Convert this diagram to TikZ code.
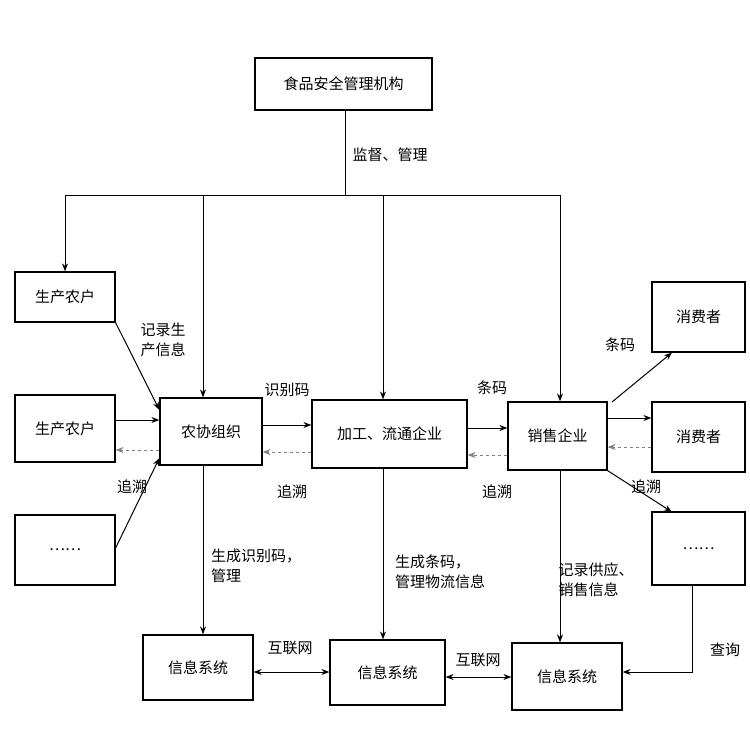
\documentclass[tikz,border=0pt]{standalone}
\usepackage{fontspec}
\setmainfont{Noto Sans CJK SC}
\usetikzlibrary{arrows.meta}
\begin{document}
\begin{tikzpicture}[x=1pt,y=-1pt,
  bx/.style={draw,line width=1.2pt,inner sep=0pt,font=\fontsize{15}{18}\selectfont},
  lb/.style={font=\fontsize{15}{20}\selectfont,align=left},
  ar/.style={-{Stealth[length=8pt,width=6pt]},line width=1pt},
  da/.style={-{Stealth[length=8pt,width=6pt]},line width=1pt,dashed,gray}]
\useasboundingbox (0,0) rectangle (750,750);
\def\B#1#2#3#4#5#6{\node[bx,minimum width=#4-#2,minimum height=#5-#3] (#1) at ({(#2+#4)/2},{(#3+#5)/2}) {#6};}
\B{top}{255}{58}{432}{110}{食品安全管理机构}
\B{f1}{15}{272}{115}{322}{生产农户}
\B{f2}{15}{395}{115}{462}{生产农户}
\B{f3}{15}{515}{115}{585}{……}
\B{co}{160}{398}{262}{465}{农协组织}
\B{pr}{312}{400}{467}{468}{加工、流通企业}
\B{sa}{508}{402}{607}{470}{销售企业}
\B{c1}{652}{282}{745}{352}{消费者}
\B{c2}{652}{402}{745}{472}{消费者}
\B{c3}{652}{512}{745}{585}{……}
\B{i1}{143}{635}{253}{700}{信息系统}
\B{i2}{330}{640}{445}{705}{信息系统}
\B{i3}{512}{643}{622}{710}{信息系统}
\coordinate (j) at (345,195);
\draw[line width=1pt] (top.south -| j) -- (j) (65,195) -- (560,195);
\draw[ar] (65,195) -- (f1.north -| 65,0);
\draw[ar] (203,195) -- (co.north -| 203,0);
\draw[ar] (383,195) -- (pr.north -| 383,0);
\draw[ar] (560,195) -- (sa.north -| 560,0);
\node[lb] at (390,155) {监督、管理};
% farmers
\draw[ar] (f1.south east) -- (co.west |- 0,410);
\node[lb] at (163,340) {记录生\\产信息};
\draw[ar] (f2.east |- 0,420) -- (co.west |- 0,420);
\draw[da] (co.west |- 0,450) -- (f2.east |- 0,450);
\draw[ar] (f3.east |- 0,548) -- (co.west |- 0,458);
\node[lb] at (132,487) {追溯};
% chain
\draw[ar] (co.east |- 0,425) -- (pr.west |- 0,425);
\draw[da] (pr.west |- 0,452) -- (co.east |- 0,452);
\node[lb] at (287,390) {识别码};
\node[lb] at (292,492) {追溯};
\draw[ar] (pr.east |- 0,428) -- (sa.west |- 0,428);
\draw[da] (sa.west |- 0,455) -- (pr.east |- 0,455);
\node[lb] at (492,388) {条码};
\node[lb] at (497,492) {追溯};
% consumers
\draw[ar] (612,402) -- (c1.south west -| 672,0);
\node[lb] at (620,345) {条码};
\draw[ar] (sa.east |- 0,418) -- (c2.west |- 0,418);
\draw[da] (c2.west |- 0,447) -- (sa.east |- 0,447);
\draw[ar] (sa.south east) -- (672,512);
\node[lb] at (646,487) {追溯};
% down
\draw[ar] (co.south -| 203,0) -- (i1.north -| 203,0);
\node[lb] at (256,566) {生成识别码，\\管理};
\draw[ar] (pr.south -| 383,0) -- (i2.north -| 383,0);
\node[lb] at (440,572) {生成条码，\\管理物流信息};
\draw[ar] (sa.south -| 560,0) -- (i3.north -| 560,0);
\node[lb] at (596,580) {记录供应、\\销售信息};
\draw[ar] (c3.south -| 692,0) -- (692,672) -- (i3.east |- 0,672);
\node[lb] at (725,650) {查询};
\draw[{Stealth[length=8pt,width=6pt]}-{Stealth[length=8pt,width=6pt]},line width=1pt] (i1.east |- 0,672) -- (i2.west |- 0,672);
\node[lb] at (290,648) {互联网};
\draw[{Stealth[length=8pt,width=6pt]}-{Stealth[length=8pt,width=6pt]},line width=1pt] (i2.east |- 0,677) -- (i3.west |- 0,677);
\node[lb] at (478,660) {互联网};
\end{tikzpicture}
\end{document}
